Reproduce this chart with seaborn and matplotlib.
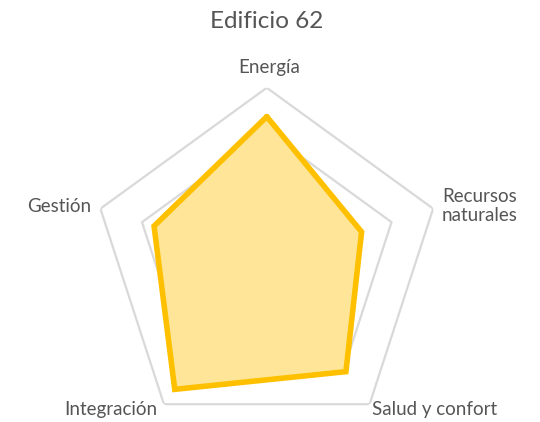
import numpy as np
import pandas as pd
import seaborn as sns
import matplotlib.pyplot as plt

categories = ["Energía", "Recursos naturales", "Salud y confort", "Integración", "Gestión"]
values = [3.34, 2.28, 3.08, 3.58, 2.71]
rings = [1, 2, 3, 4]
title = "Edificio 62"

sns.set_theme(style="white")
plt.rcParams["font.family"] = ["Lato", "DejaVu Sans"]

n = len(categories)
angles = np.linspace(0, 2 * np.pi, n, endpoint=False)
closed = np.append(angles, 2 * np.pi)
df = pd.DataFrame({"angle": closed, "value": values + values[:1]})

fig = plt.figure(figsize=(5.4, 4.22), dpi=100)
ax = fig.add_axes([0.170, -0.037, 0.648, 0.829], projection="polar")
ax.set_theta_offset(np.pi / 2)
ax.set_theta_direction(-1)
ax.set_ylim(0, 4)
ax.grid(False)
ax.set_xticks([])
ax.set_yticks([])
ax.spines["polar"].set_visible(False)
ax.patch.set_alpha(0)

# pentagon rings
for r in rings:
    ax.plot(closed, [r] * (n + 1), color="#d9d9d9", lw=1.6, zorder=1)

ax.fill(df["angle"], df["value"], color="#fee597", zorder=2)
sns.lineplot(data=df, x="angle", y="value", sort=False, ax=ax,
             color="#ffc000", lw=4, zorder=3)
for ln in ax.lines[-1:]:
    ln.set_solid_joinstyle("miter")
ax.set_xlabel("")
ax.set_ylabel("")

txt = "#555555"
W, H = 540, 422
def put(x, y, s, size=13.5, **kw):
    fig.text(x / W, 1 - y / H, s, color=txt, fontsize=size,
             ha="center", va="center", **kw)

put(267, 22, title, size=17.5)
put(269, 67, categories[0])
put(480, 206, "Recursos\nnaturales", linespacing=1.2)
put(435, 410, categories[2])
put(111, 410, categories[3])
put(59, 207, categories[4])

fig.savefig("out.png", dpi=100)
